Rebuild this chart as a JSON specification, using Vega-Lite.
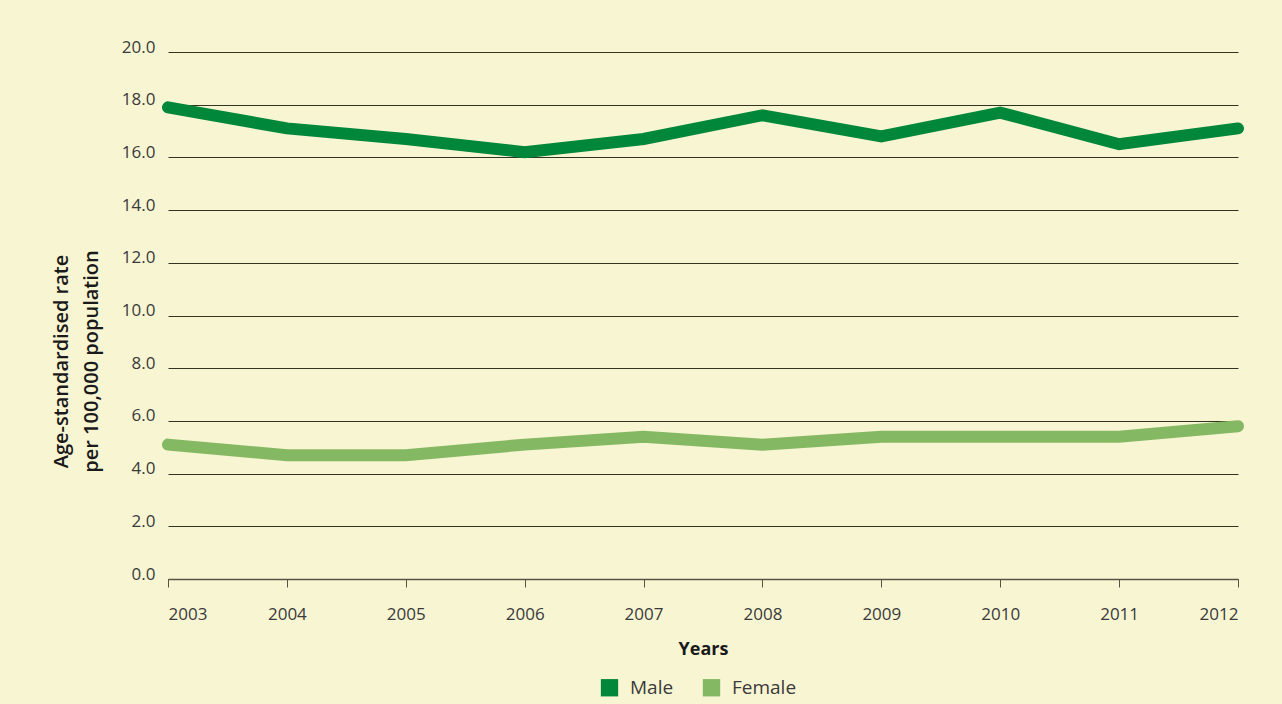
{
  "$schema": "https://vega.github.io/schema/vega-lite/v6.json",
  "width": 1070,
  "height": 527,
  "autosize": "none",
  "padding": {"left": 168, "top": 52, "right": 44, "bottom": 125},
  "background": "#f8f5d3",
  "config": {
    "view": {"stroke": null},
    "font": "Open Sans"
  },
  "data": {
    "values": [
      {"year": 2003, "sex": "Male", "rate": 17.9},
      {"year": 2004, "sex": "Male", "rate": 17.1},
      {"year": 2005, "sex": "Male", "rate": 16.7},
      {"year": 2006, "sex": "Male", "rate": 16.2},
      {"year": 2007, "sex": "Male", "rate": 16.7},
      {"year": 2008, "sex": "Male", "rate": 17.6},
      {"year": 2009, "sex": "Male", "rate": 16.8},
      {"year": 2010, "sex": "Male", "rate": 17.7},
      {"year": 2011, "sex": "Male", "rate": 16.5},
      {"year": 2012, "sex": "Male", "rate": 17.1},
      {"year": 2003, "sex": "Female", "rate": 5.1},
      {"year": 2004, "sex": "Female", "rate": 4.7},
      {"year": 2005, "sex": "Female", "rate": 4.7},
      {"year": 2006, "sex": "Female", "rate": 5.1},
      {"year": 2007, "sex": "Female", "rate": 5.4},
      {"year": 2008, "sex": "Female", "rate": 5.1},
      {"year": 2009, "sex": "Female", "rate": 5.4},
      {"year": 2010, "sex": "Female", "rate": 5.4},
      {"year": 2011, "sex": "Female", "rate": 5.4},
      {"year": 2012, "sex": "Female", "rate": 5.8}
    ]
  },
  "mark": {"type": "line", "strokeWidth": 12, "strokeCap": "round", "strokeJoin": "miter"},
  "encoding": {
    "x": {
      "field": "year",
      "type": "quantitative",
      "scale": {"domain": [2003, 2012], "nice": false, "zero": false},
      "axis": {
        "title": "Years",
        "format": "d",
        "values": [2003, 2004, 2005, 2006, 2007, 2008, 2009, 2010, 2011, 2012],
        "grid": false,
        "domainColor": "#555544",
        "domainWidth": 1.5,
        "tickColor": "#555544",
        "tickSize": 8,
        "labelPadding": 19,
        "labelFontSize": 17,
        "labelColor": "#3a3a3a",
        "titleFontSize": 18,
        "titleFontWeight": "bold",
        "titleColor": "#1a1a1a",
        "titlePadding": 18
      }
    },
    "y": {
      "field": "rate",
      "type": "quantitative",
      "scale": {"domain": [0, 20], "nice": false},
      "axis": {
        "title": ["Age-standardised rate", "per 100,000 population"],
        "format": ".1f",
        "values": [0, 2, 4, 6, 8, 10, 12, 14, 16, 18, 20],
        "domain": false,
        "ticks": false,
        "gridColor": "#333322",
        "gridWidth": 1.2,
        "gridOpacity": 1,
        "labelPadding": 13,
        "labelBaseline": "alphabetic",
        "labelFontSize": 17,
        "labelColor": "#3a3a3a",
        "titleFontSize": 20,
        "titleFontWeight": 600,
        "titleColor": "#1a1a1a",
        "titleLineHeight": 30,
        "titlePadding": 20,
        "titleY": 309
      }
    },
    "color": {
      "field": "sex",
      "type": "nominal",
      "scale": {"domain": ["Male", "Female"], "range": ["#00873a", "#85b862"]},
      "legend": {
        "title": null,
        "orient": "none",
        "direction": "horizontal",
        "legendX": 432,
        "legendY": 626,
        "symbolType": "square",
        "symbolSize": 300,
        "symbolStrokeWidth": 0,
        "symbolOpacity": 1,
        "labelFontSize": 19,
        "labelColor": "#3a3a3a",
        "labelOffset": 11,
        "columnPadding": 28,
        "encode": {
          "symbols": {
            "update": {
              "fill": {"scale": "color", "field": "value"},
              "fillOpacity": {"value": 1},
              "strokeWidth": {"value": 0}
            }
          }
        }
      }
    }
  }
}
